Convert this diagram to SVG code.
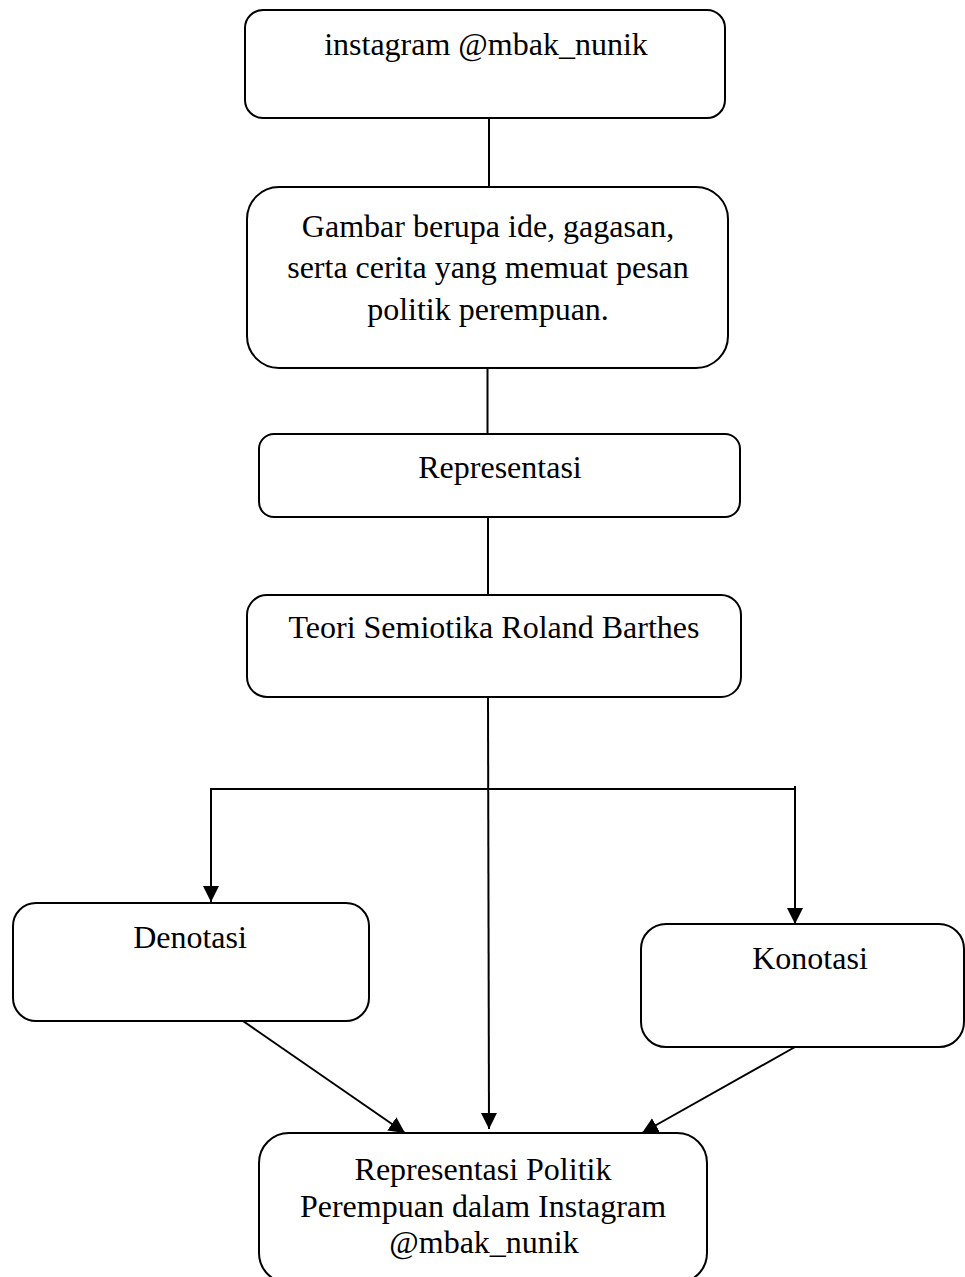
<svg xmlns="http://www.w3.org/2000/svg" width="965" height="1277" viewBox="0 0 965 1277">
<defs>
<style>
.box{fill:#fff;stroke:#000;stroke-width:2}
.lbl{font-family:"Liberation Serif","Times New Roman",serif;font-size:32px;fill:#000;text-anchor:middle}
.con{stroke:#000;stroke-width:2;fill:none}
</style>
<marker id="arr" viewBox="0 0 16 16" refX="16" refY="8" markerWidth="16" markerHeight="16" markerUnits="userSpaceOnUse" orient="auto">
<path d="M0,0 L16,8 L0,16 Z" fill="#000"/>
</marker>
</defs>
<rect width="965" height="1277" fill="#fff"/>
<g id="connectors">
<line class="con" x1="489" y1="118" x2="489" y2="187"/>
<line class="con" x1="487.5" y1="368" x2="487.5" y2="434"/>
<line class="con" x1="488" y1="517" x2="488" y2="595"/>
<line class="con" x1="488" y1="697" x2="489" y2="1129" marker-end="url(#arr)"/>
<line class="con" x1="210" y1="789" x2="795" y2="789"/>
<line class="con" x1="211" y1="788" x2="211" y2="902" marker-end="url(#arr)"/>
<line class="con" x1="795" y1="786" x2="795" y2="924" marker-end="url(#arr)"/>
<line class="con" x1="243" y1="1021" x2="405" y2="1133" marker-end="url(#arr)"/>
<line class="con" x1="795" y1="1047" x2="642" y2="1133" marker-end="url(#arr)"/>
</g>
<g id="n1">
<rect class="box" x="245" y="10" width="480" height="108" rx="18"/>
<text class="lbl" x="486" y="55">instagram @mbak_nunik</text>
</g>
<g id="n2">
<rect class="box" x="247" y="187" width="481" height="181" rx="32"/>
<text class="lbl" x="488" y="237">Gambar berupa ide, gagasan,</text>
<text class="lbl" x="488" y="278">serta cerita yang memuat pesan</text>
<text class="lbl" x="488" y="320">politik perempuan.</text>
</g>
<g id="n3">
<rect class="box" x="259" y="434" width="481" height="83" rx="15"/>
<text class="lbl" x="500" y="478">Representasi</text>
</g>
<g id="n4">
<rect class="box" x="247" y="595" width="494" height="102" rx="20"/>
<text class="lbl" x="494" y="638">Teori Semiotika Roland Barthes</text>
</g>
<g id="n5">
<rect class="box" x="13" y="903" width="356" height="118" rx="23"/>
<text class="lbl" x="190" y="948">Denotasi</text>
</g>
<g id="n6">
<rect class="box" x="641" y="924" width="323" height="123" rx="25"/>
<text class="lbl" x="810" y="969">Konotasi</text>
</g>
<g id="n7">
<rect class="box" x="259" y="1133" width="448" height="150" rx="30"/>
<text class="lbl" x="483" y="1180">Representasi Politik</text>
<text class="lbl" x="483" y="1217">Perempuan dalam Instagram</text>
<text class="lbl" x="484" y="1253">@mbak_nunik</text>
</g>
</svg>
